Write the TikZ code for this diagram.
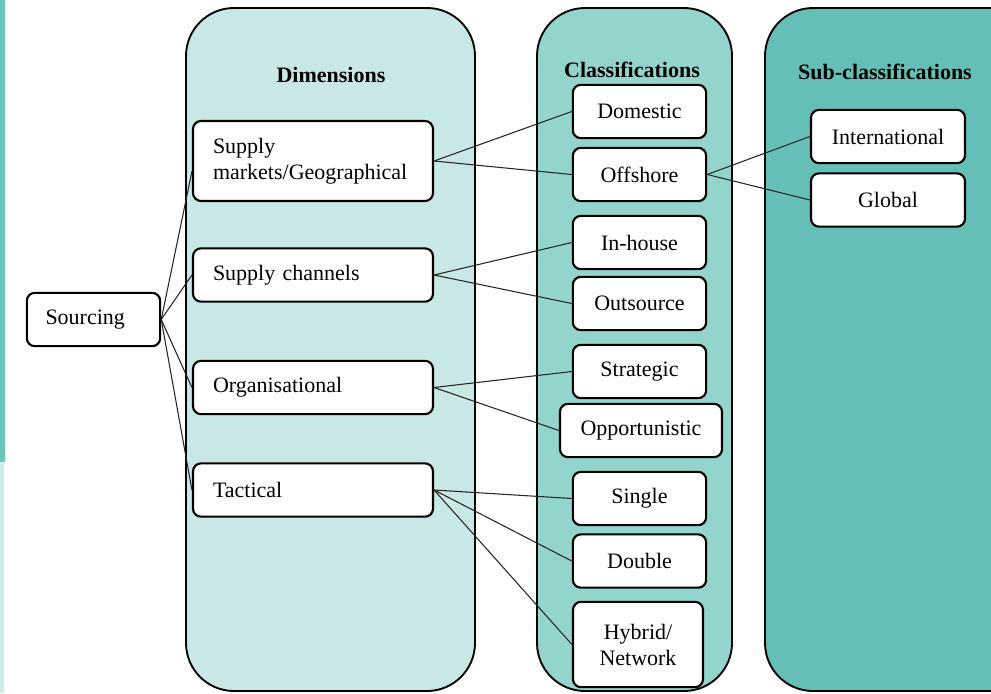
\documentclass[tikz,border=0pt]{standalone}
\usepackage{fontspec}
\setmainfont{Liberation Serif}
\usetikzlibrary{calc,positioning}

\begin{document}
\begin{tikzpicture}[x=0.75pt,y=-0.75pt,
  panel/.style={draw=black,line width=1.4pt,rounded corners=36pt},
  box/.style={draw=black,line width=1.6pt,rounded corners=6pt,fill=white,
    minimum width=100pt,minimum height=40pt,inner sep=2pt,align=center,
    font=\fontsize{16.5}{19.5}\selectfont},
  dimbox/.style={box,minimum width=180pt,text width=150pt,inner xsep=15pt,align=left},
  subbox/.style={box,minimum width=115.5pt},
  head/.style={font=\fontsize{16.5}{19.5}\selectfont\bfseries},
  link/.style={draw=black!85,line width=0.8pt}]
  \useasboundingbox (0,0) rectangle (991,693);
  \clip (0,0) rectangle (991,693);
  % edge strip
  \fill[fill={rgb,255:red,108;green,197;blue,187}] (0,0) rectangle (5,462);
  \fill[fill={rgb,255:red,205;green,235;blue,232}] (0,462) rectangle (4,693);
  % panels
  \draw[panel,fill={rgb,255:red,201;green,231;blue,228}] (186,8) rectangle (475,691);
  \draw[panel,fill={rgb,255:red,147;green,213;blue,205}] (537,8) rectangle (732,691);
  \draw[panel,fill={rgb,255:red,102;green,191;blue,182}] (765,8) rectangle (1040,691);
  \node[head] (hdim) at (331,75) {Dimensions};
  \node[head] (hcls) at (632,70) {Classifications};
  \node[head] (hsub) at (885,72) {Sub-classifications};
  % root
  \node[box,text width=72pt,inner xsep=14pt,align=left] (src) at (93.5,319.5) {Sourcing};
  % dimensions
  \node[dimbox,minimum height=60pt] (geo) at (313,161) {Supply\\markets/Geographical};
  \node[dimbox] (chan) at (313,275) {Supply channels};
  \node[dimbox] (org) at (313,387.5) {Organisational};
  \node[dimbox] (tac) at (313,490) {Tactical};
  % classifications
  \node[box] (dom) at (639.5,111.5) {Domestic};
  \node[box] (off) at (639.5,174.5) {Offshore};
  \node[box] (inh) at (639.5,242.5) {In-house};
  \node[box] (outs) at (639.5,303.5) {Outsource};
  \node[box] (strat) at (639.5,371.5) {Strategic};
  \node[box,minimum width=121.5pt] (opp) at (641,430.5) {Opportunistic};
  \node[box] (sing) at (639.5,498.5) {Single};
  \node[box] (dbl) at (639.5,561) {Double};
  \node[box,minimum width=97.5pt,minimum height=64pt] (hyb) at (638,644.5) {Hybrid/\\Network};
  % sub-classifications
  \node[subbox] (intl) at (888,136.5) {International};
  \node[subbox] (glob) at (888,200) {Global};
  % links
  \draw[link] (src.east) -- ($(geo.west)!0.25!(geo.south west)$);
  \foreach \d in {chan,org,tac}
    \draw[link] (src.east) -- (\d.west);
  \draw[link] (geo.east) -- (dom.west);
  \draw[link] (geo.east) -- (off.west);
  \draw[link] (chan.east) -- (inh.west);
  \draw[link] (chan.east) -- (outs.west);
  \draw[link] (org.east) -- (strat.west);
  \draw[link] (org.east) -- (opp.west);
  \draw[link] (tac.east) -- (sing.west);
  \draw[link] (tac.east) -- (dbl.west);
  \draw[link] (tac.east) -- (hyb.west);
  \draw[link] (off.east) -- (intl.west);
  \draw[link] (off.east) -- (glob.west);
\end{tikzpicture}
\end{document}
